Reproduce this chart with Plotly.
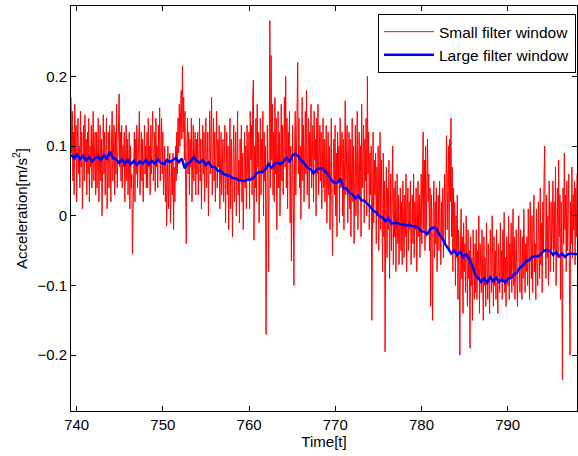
import numpy as np
import plotly.graph_objects as go

# Time span of the record (uniform sampling)
t_start = 739.34
t_end = 798.04

# Small filter window (20 segments x 40 samples)
small_filter = [
    0.17, 0.09, 0.15, 0.05, 0.12, 0.03, 0.16, 0.08, 0.13, 0.02, 0.11, 0.14, 0.06, 0.10, 0.04, 0.15, 0.07, 0.12, 0.01, 0.09, 0.13, 0.05, 0.145, 0.08, 0.11, 0.03, 0.12, 0.06, 0.14, 0.02, 0.10, 0.07, 0.13, 0.04, 0.11, 0.15, 0.05, 0.09, 0.12, 0.03,
    0.12, 0.04, 0.10, 0.14, 0.02, 0.08, 0.13, 0.05, 0.11, 0.0, 0.09, 0.145, 0.06, 0.12, 0.03, 0.10, 0.14, 0.01, 0.07, 0.12, 0.04, 0.13, 0.08, 0.02, 0.11, 0.15, 0.05, 0.09, 0.13, 0.03, 0.12, 0.06, 0.16, 0.04, 0.10, 0.14, 0.175, 0.07, 0.12, 0.05,
    0.13, 0.04, 0.10, 0.07, 0.12, 0.02, 0.09, 0.13, 0.05, 0.11, 0.03, 0.08, 0.12, 0.01, 0.10, 0.04, 0.06, -0.055, 0.03, 0.09, 0.12, 0.02, 0.11, 0.06, 0.13, 0.04, 0.10, 0.14, 0.15, 0.03, 0.08, 0.12, 0.05, 0.11, 0.02, 0.09, 0.13, 0.06, 0.10, 0.04,
    0.12, 0.04, 0.14, 0.07, 0.10, 0.03, 0.13, 0.06, 0.11, 0.15, 0.05, 0.09, 0.12, 0.035, 0.14, 0.07, 0.10, 0.04, 0.13, 0.08, 0.155, 0.05, 0.11, 0.14, 0.06, 0.12, 0.03, 0.09, 0.10, 0.02, 0.08, -0.015, 0.06, 0.10, 0.01, 0.07, 0.09, -0.01, 0.05, 0.08,
    0.03, 0.09, -0.02, 0.07, 0.02, 0.10, 0.05, 0.12, 0.06, 0.14, 0.09, 0.16, 0.10, 0.13, 0.18, 0.11, 0.215, 0.12, 0.17, 0.08, 0.15, 0.04, -0.04, 0.10, 0.14, 0.06, 0.12, 0.03, 0.11, 0.07, 0.14, 0.02, 0.10, 0.13, 0.05, 0.09, 0.12, 0.03, 0.11, 0.06,
    0.12, 0.03, 0.10, 0.14, 0.05, 0.11, 0.01, 0.09, 0.13, 0.06, 0.12, 0.02, 0.10, 0.14, 0.04, 0.08, 0.12, 0.0, 0.11, 0.15, 0.06, 0.13, 0.17, 0.03, 0.10, 0.14, 0.05, 0.12, 0.02, 0.09, 0.15, 0.04, 0.11, 0.07, 0.13, 0.01, 0.10, 0.12, 0.03, 0.08,
    0.11, 0.02, 0.09, 0.13, -0.01, 0.07, 0.12, 0.03, 0.10, -0.02, 0.08, 0.14, 0.01, 0.11, 0.05, -0.03, 0.09, 0.13, 0.02, 0.06, 0.12, 0.0, 0.10, 0.15, 0.03, 0.08, -0.01, 0.11, 0.05, 0.13, 0.02, 0.09, -0.02, 0.07, 0.12, 0.04, 0.10, 0.01, 0.13, 0.06,
    0.05, 0.12, 0.01, 0.15, 0.08, 0.13, 0.03, 0.17, 0.195, -0.035, 0.10, 0.04, 0.14, 0.02, 0.16, 0.07, 0.12, -0.01, 0.09, 0.14, 0.03, 0.11, 0.06, 0.15, 0.0, 0.12, 0.05, 0.10, -0.17, 0.02, 0.13, 0.06, -0.08, 0.09, 0.28, 0.04, 0.23, 0.08, 0.16, 0.03,
    0.12, 0.02, 0.17, 0.06, 0.14, -0.02, 0.10, 0.15, 0.04, 0.12, 0.0, 0.09, 0.16, 0.05, 0.13, 0.03, 0.11, 0.17, 0.07, 0.20, 0.04, 0.14, 0.01, 0.12, 0.08, 0.15, -0.01, 0.10, -0.065, 0.06, 0.13, 0.02, -0.10, 0.08, 0.15, 0.03, 0.11, 0.18, 0.22, 0.06,
    0.14, 0.04, 0.10, -0.005, 0.12, 0.17, 0.05, 0.13, 0.02, 0.09, 0.15, 0.06, 0.18, 0.03, 0.11, 0.14, 0.01, 0.12, 0.07, 0.16, 0.04, 0.10, 0.13, 0.02, 0.15, 0.08, 0.11, 0.0, 0.14, 0.06, 0.16, 0.03, 0.09, 0.13, 0.05, 0.12, 0.01, 0.10, 0.14, 0.04,
    0.11, 0.02, 0.09, 0.13, -0.01, 0.07, 0.12, 0.03, 0.10, -0.02, 0.08, 0.14, 0.01, -0.057, 0.06, 0.11, 0.03, 0.13, 0.0, 0.09, -0.03, 0.12, 0.05, 0.10, -0.01, 0.14, 0.04, 0.08, 0.12, 0.0, 0.11, -0.02, 0.07, 0.165, 0.03, 0.10, 0.13, -0.01, 0.09, 0.12,
    0.01, 0.11, -0.03, 0.08, 0.14, 0.02, 0.10, -0.04, 0.06, 0.13, 0.0, 0.09, 0.15, -0.02, 0.07, 0.12, 0.03, 0.10, -0.03, 0.16, 0.04, 0.08, 0.13, -0.01, 0.11, 0.05, 0.14, 0.0, 0.20, 0.06, 0.12, -0.02, 0.09, 0.03, 0.10, -0.15, 0.05, 0.12, -0.01, 0.08,
    0.03, 0.09, -0.04, 0.07, 0.0, 0.10, -0.05, 0.06, 0.12, -0.02, 0.08, 0.01, -0.08, 0.09, -0.03, 0.05, -0.195, 0.02, 0.07, -0.06, 0.04, -0.02, 0.08, -0.09, 0.03, 0.06, -0.05, 0.01, 0.10, -0.07, 0.04, -0.03, 0.05, -0.08, 0.02, 0.06, -0.04, 0.03, -0.07, 0.01,
    0.04, -0.05, 0.02, -0.07, 0.05, -0.01, -0.06, 0.03, -0.03, 0.06, -0.08, 0.01, 0.04, -0.05, 0.02, -0.02, 0.05, -0.07, 0.0, 0.03, -0.04, 0.06, -0.06, 0.02, -0.02, 0.04, -0.08, 0.01, 0.05, -0.03, 0.03, -0.06, 0.0, 0.06, -0.04, 0.02, 0.12, -0.02, 0.08, -0.05,
    0.10, -0.03, 0.08, 0.11, 0.02, 0.06, -0.05, 0.04, -0.13, 0.03, -0.02, -0.15, 0.01, 0.05, -0.06, 0.02, -0.04, 0.04, -0.08, 0.0, 0.03, -0.05, 0.05, -0.02, -0.07, 0.02, -0.03, 0.04, -0.06, 0.01, 0.06, -0.04, 0.03, 0.115, -0.02, 0.08, 0.10, -0.05, 0.11, 0.02,
    0.14, -0.03, 0.07, -0.08, 0.04, -0.05, 0.02, -0.10, 0.0, -0.06, 0.03, -0.12, -0.02, -0.07, -0.20, -0.04, 0.01, -0.09, -0.03, -0.14, -0.01, -0.08, -0.04, -0.11, 0.0, -0.06, -0.13, -0.02, -0.09, -0.05, -0.19, -0.03, -0.10, -0.06, -0.15, -0.02, -0.08, -0.12, -0.04, -0.11,
    -0.02, -0.12, -0.05, -0.09, 0.0, -0.14, -0.04, -0.08, -0.11, -0.02, -0.07, -0.15, -0.03, -0.10, -0.06, -0.13, -0.01, -0.08, -0.12, -0.04, -0.09, -0.14, -0.02, -0.06, -0.11, 0.0, -0.08, -0.13, -0.03, -0.10, -0.05, -0.12, -0.02, -0.09, -0.14, -0.04, -0.07, -0.11, -0.01, -0.09,
    -0.05, -0.12, -0.02, -0.09, 0.005, -0.11, -0.06, -0.13, -0.03, -0.08, -0.10, 0.0, -0.12, -0.04, -0.09, -0.01, -0.11, -0.06, 0.01, -0.10, -0.03, -0.12, -0.07, -0.02, -0.09, -0.13, -0.04, 0.0, -0.08, -0.11, -0.02, -0.06, -0.12, -0.03, -0.09, 0.01, -0.07, -0.11, -0.04, -0.08,
    -0.03, -0.10, 0.01, -0.07, -0.12, 0.02, -0.05, -0.09, 0.0, -0.11, -0.02, 0.03, -0.08, -0.04, -0.12, 0.01, -0.06, -0.10, 0.02, -0.03, -0.09, 0.04, -0.07, -0.01, -0.11, 0.02, -0.05, 0.06, 0.10, -0.04, -0.09, 0.03, -0.06, 0.0, -0.10, 0.05, -0.03, -0.08, 0.02, -0.05,
    -0.02, 0.05, -0.08, 0.02, -0.05, 0.07, -0.10, 0.01, 0.04, -0.06, 0.08, -0.03, 0.03, -0.12, 0.02, -0.07, -0.235, 0.04, -0.04, 0.09, -0.02, 0.03, -0.08, 0.05, -0.05, 0.01, 0.06, -0.09, -0.20, 0.02, -0.04, 0.07, -0.06, 0.03, -0.02, 0.05, -0.07, 0.04, -0.03, 0.06,
]

# Large filter window (10 segments x 17 samples)
large_filter = [
    0.088, 0.083, 0.088, 0.081, 0.086, 0.079, 0.084, 0.078, 0.083, 0.085, 0.080, 0.087, 0.082, 0.092, 0.083, 0.081, 0.076,
    0.081, 0.075, 0.080, 0.074, 0.079, 0.073, 0.078, 0.075, 0.080, 0.074, 0.079, 0.075, 0.081, 0.076, 0.074, 0.080, 0.077,
    0.080, 0.083, 0.077, 0.082, 0.068, 0.075, 0.078, 0.084, 0.079, 0.076, 0.080, 0.073, 0.077, 0.070, 0.070, 0.065, 0.064,
    0.060, 0.058, 0.058, 0.054, 0.054, 0.051, 0.051, 0.050, 0.052, 0.052, 0.055, 0.061, 0.063, 0.063, 0.067, 0.074, 0.069,
    0.075, 0.076, 0.074, 0.078, 0.083, 0.077, 0.087, 0.089, 0.085, 0.079, 0.075, 0.069, 0.067, 0.061, 0.066, 0.068, 0.068,
    0.063, 0.059, 0.051, 0.047, 0.048, 0.053, 0.040, 0.039, 0.033, 0.031, 0.025, 0.029, 0.022, 0.022, 0.017, 0.013, 0.007,
    0.005, -0.001, -0.002, -0.008, -0.003, -0.011, -0.011, -0.010, -0.012, -0.012, -0.014, -0.013, -0.015, -0.015, -0.017, -0.022, -0.023,
    -0.026, -0.019, -0.017, -0.018, -0.027, -0.032, -0.041, -0.047, -0.054, -0.050, -0.056, -0.052, -0.059, -0.055, -0.063, -0.071, -0.085,
    -0.089, -0.095, -0.090, -0.096, -0.088, -0.094, -0.089, -0.095, -0.091, -0.096, -0.090, -0.089, -0.084, -0.081, -0.074, -0.071, -0.065,
    -0.064, -0.059, -0.058, -0.058, -0.055, -0.050, -0.049, -0.051, -0.056, -0.052, -0.058, -0.054, -0.059, -0.055, -0.054, -0.055, -0.055,
]

x_ticks = [740, 750, 760, 770, 780, 790]
y_ticks = [-0.2, -0.1, 0, 0.1, 0.2, 0.3]
y_tick_labels = ["\u22120.2", "\u22120.1", "0", "0.1", "0.2", "0.3"]

t_small = np.linspace(t_start, t_end, len(small_filter))
t_large = np.linspace(t_start, t_end, len(large_filter))

FONT = "Liberation Sans, Arial, Helvetica, sans-serif"

fig = go.Figure()
fig.add_trace(go.Scatter(x=t_small, y=small_filter, mode="lines",
                         line=dict(color="#ff0000", width=1),
                         name="Small filter window"))
fig.add_trace(go.Scatter(x=t_large, y=large_filter, mode="lines",
                         line=dict(color="#0000ff", width=2.5),
                         name="Large filter window"))

axis_common = dict(showline=True, linecolor="black", linewidth=1,
                   mirror="ticks", ticks="inside", ticklen=5,
                   tickcolor="black", tickwidth=1, showgrid=False,
                   zeroline=False,
                   tickfont=dict(family=FONT, size=15, color="black"))

fig.update_layout(
    width=578, height=456,
    margin=dict(l=71, r=1, t=6, b=45),
    paper_bgcolor="white", plot_bgcolor="white",
    font=dict(family=FONT, size=15, color="black"),
    xaxis=dict(range=[t_start, t_end], tickvals=x_ticks,
               title=dict(text="Time[t]", standoff=2,
                          font=dict(family=FONT, size=15)),
               automargin=False, **axis_common),
    yaxis=dict(range=[-0.28, 0.301], tickvals=y_ticks,
               ticktext=y_tick_labels,
               title=dict(text="Acceleration[m/s<sup>2</sup>]", standoff=6,
                          font=dict(family=FONT, size=15)),
               automargin=False, **axis_common),
    legend=dict(x=0.998, y=0.98, xanchor="right", yanchor="top",
                bgcolor="white", bordercolor="black", borderwidth=1,
                itemwidth=50, tracegroupgap=0,
                font=dict(family=FONT, size=15.5)),
    showlegend=True,
)

fig.write_html("out.html")
